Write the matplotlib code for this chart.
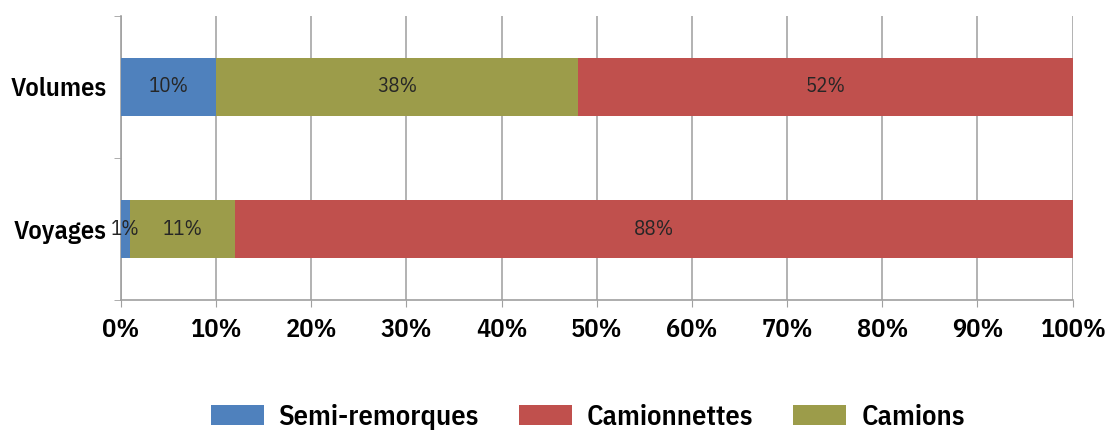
import matplotlib.pyplot as plt
import numpy as np

categories = ["Volumes", "Voyages"]
semi = [10, 1]
camions = [38, 11]
camionnettes = [52, 88]
tick_labels = ["0%", "10%", "20%", "30%", "40%", "50%", "60%", "70%", "80%", "90%", "100%"]

c_semi = "#4f81bd"
c_camionnettes = "#c0504d"
c_camions = "#9c9c4a"

font = ["IBM Plex Sans Condensed", "DejaVu Sans"]

fig = plt.figure(figsize=(11.13, 4.30), dpi=100)
ax = fig.add_axes([0.1087, 0.3023, 0.855, 0.6605])

y = np.arange(len(categories))
h = 0.41
left = np.zeros(len(categories))
series = [("Semi-remorques", semi, c_semi),
          ("Camions", camions, c_camions),
          ("Camionnettes", camionnettes, c_camionnettes)]
handles = {}
for name, vals, col in series:
    vals = np.array(vals, dtype=float)
    bars = ax.barh(y, vals, left=left, height=h, color=col, zorder=3)
    handles[name] = bars
    for yi, l, v in zip(y, left, vals):
        ax.text(l + v / 2, yi, f"{int(v)}%", ha="center", va="center",
                fontsize=15, color="#262626", family=font, zorder=4)
    left = left + vals

ax.set_xlim(0, 100)
ax.set_ylim(1.5, -0.5)
ax.set_xticks(np.arange(0, 101, 10))
ax.set_xticklabels(tick_labels, family=font, fontsize=19, fontweight="semibold")
ax.set_yticks(y)
ax.set_yticklabels(categories, family=font, fontsize=19, fontweight="semibold")
ax.set_yticks([-0.5, 0.5, 1.5], minor=True)
ax.tick_params(axis="y", which="major", length=0, pad=10)
ax.tick_params(axis="y", which="minor", length=5, color="#a0a0a0")
ax.tick_params(axis="x", length=5, color="#a0a0a0", pad=8)
ax.grid(axis="x", color="#a6a6a6", linewidth=1.2, zorder=0)
for s in ["top", "right"]:
    ax.spines[s].set_visible(False)
for s in ["left", "bottom"]:
    ax.spines[s].set_color("#a0a0a0")
    ax.spines[s].set_linewidth(1.2)

order = ["Semi-remorques", "Camionnettes", "Camions"]
fig.legend([handles[n] for n in order], order, loc="center", ncol=3,
           bbox_to_anchor=(0.528, 0.03), frameon=False,
           prop={"family": font, "size": 20.5, "weight": "semibold"},
           handlelength=1.86, handleheight=0.7, columnspacing=1.4, handletextpad=0.53)

fig.savefig("out.png", dpi=100)
